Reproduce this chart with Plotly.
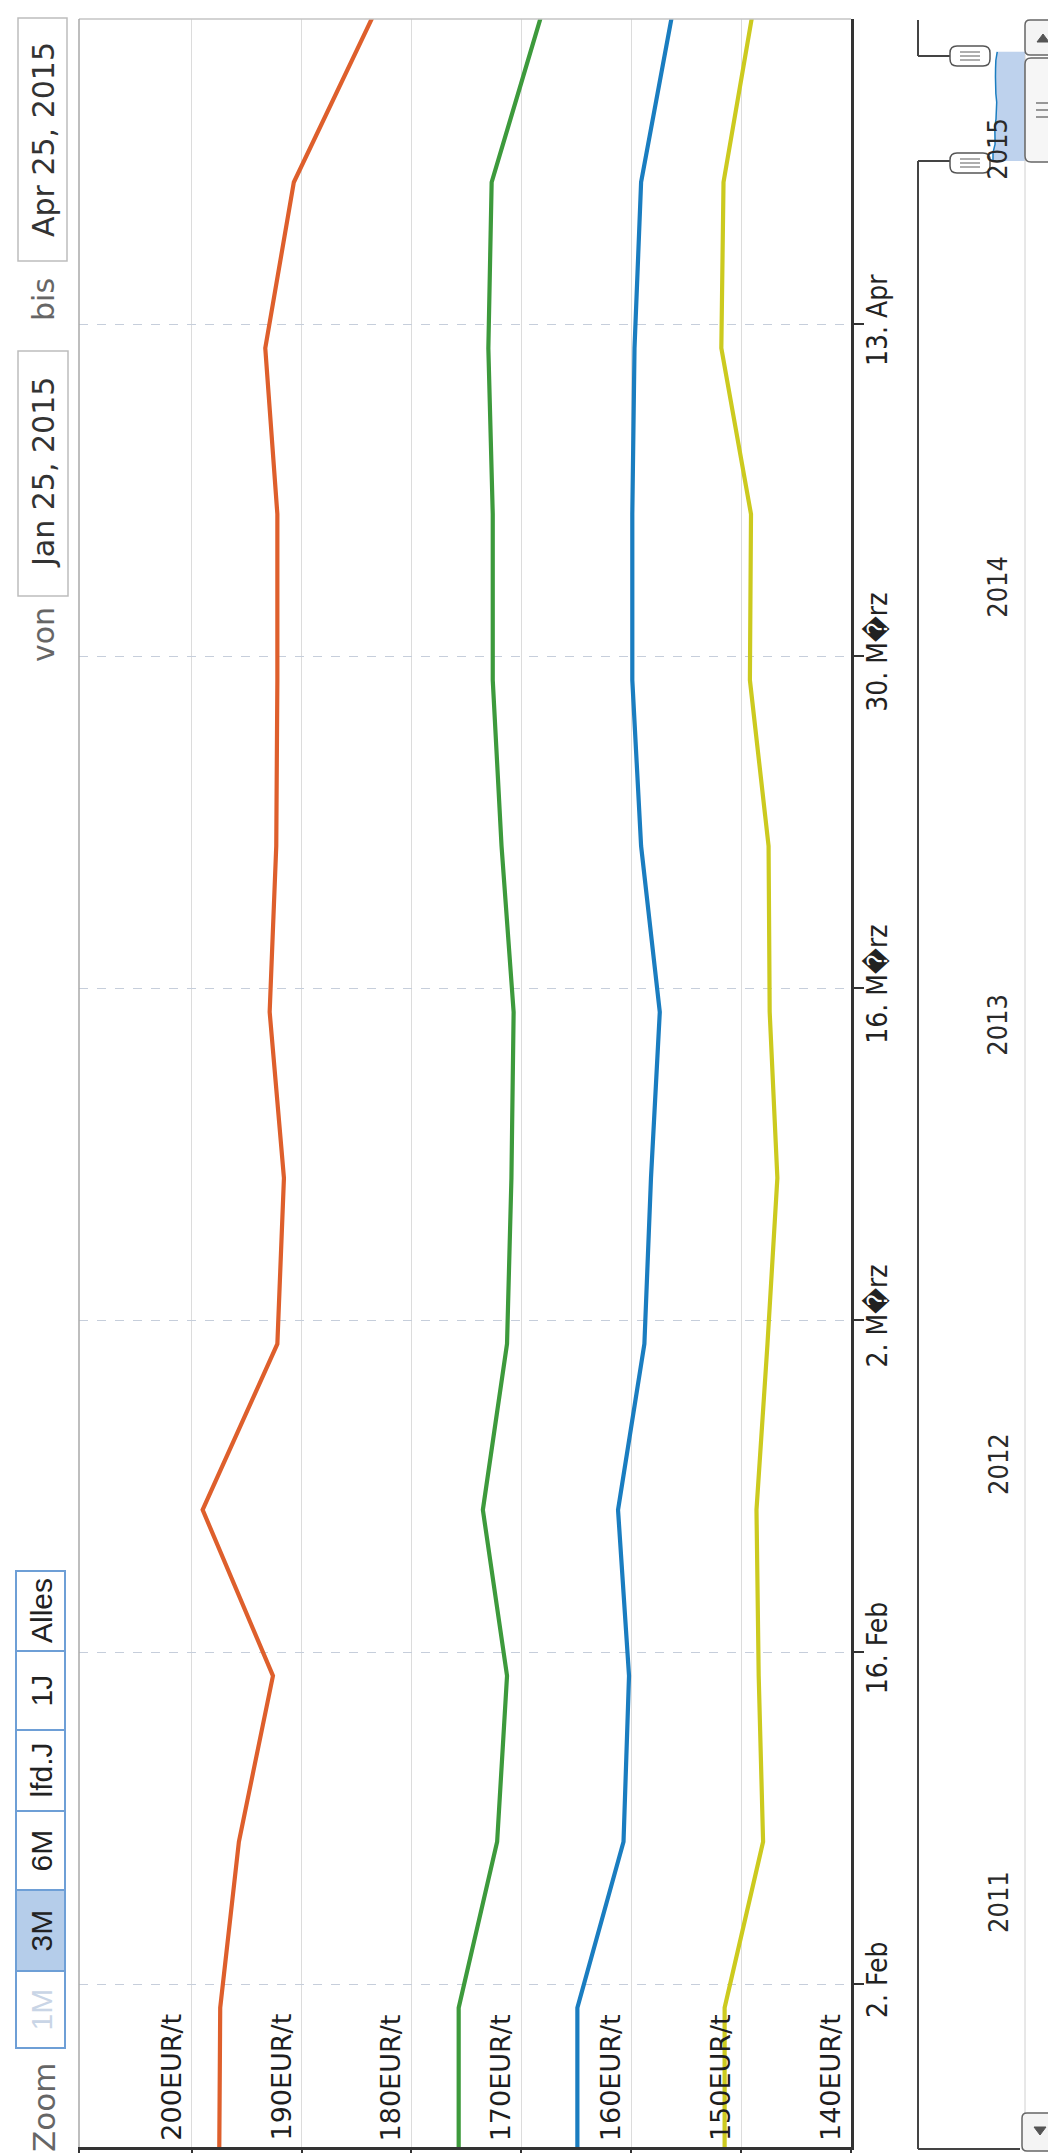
import pandas as pd
import plotly.graph_objects as go

# ---------------- data ----------------
dates = ["2015-01-25", "2015-02-01", "2015-02-08", "2015-02-15", "2015-02-22",
         "2015-03-01", "2015-03-08", "2015-03-15", "2015-03-22", "2015-03-29",
         "2015-04-05", "2015-04-12", "2015-04-19", "2015-04-26"]
orange = [197.5, 197.4, 195.7, 192.6, 199.0, 192.2, 191.6, 192.9, 192.3, 192.2, 192.2, 193.3, 190.7, 183.5]
green = [175.7, 175.7, 172.2, 171.3, 173.5, 171.3, 170.9, 170.7, 171.8, 172.6, 172.6, 173.0, 172.7, 168.2]
blue = [164.9, 164.9, 160.7, 160.2, 161.2, 158.8, 158.2, 157.4, 159.1, 159.9, 159.9, 159.7, 159.1, 156.3]
yellow = [151.5, 151.5, 148.0, 148.4, 148.6, 147.6, 146.7, 147.4, 147.5, 149.2, 149.1, 151.8, 151.6, 149.0]

value_ticks = [200, 190, 180, 170, 160, 150, 140]
value_labels = [f"{v}EUR/t" for v in value_ticks]
date_ticks = ["2015-02-02", "2015-02-16", "2015-03-02", "2015-03-16", "2015-03-30", "2015-04-13"]
date_labels = ["2. Feb", "16. Feb", "2. M\ufffdrz", "16. M\ufffdrz", "30. M\ufffdrz", "13. Apr"]
year_ticks = ["2011-01-01", "2012-01-01", "2013-01-01", "2014-01-01", "2015-01-01"]
year_labels = ["2011", "2012", "2013", "2014", "2015"]
buttons = ["1M", "3M", "6M", "lfd.J", "1J", "Alles"]
range_from = "Jan 25, 2015"
range_to = "Apr 25, 2015"

# ---------------- geometry helpers ----------------
W, H = 1056, 2153
def fx(x): return x / W
def fy(y): return 1 - y / H

COND = "DejaVu Sans Condensed, Liberation Sans Narrow, Arial Narrow, sans-serif"
SANS = "DejaVu Sans, Verdana, sans-serif"
UI = "Liberation Sans, Arial, sans-serif"

shapes = []
annotations = []

def seg(x0, y0, x1, y1, color="#444", width=2, dash="solid"):
    shapes.append(dict(type="line", xref="paper", yref="paper", x0=fx(x0), y0=fy(y0),
                       x1=fx(x1), y1=fy(y1), line=dict(color=color, width=width, dash=dash),
                       layer="above"))

def box(x0, y0, x1, y1, fill="white", color="#444", width=1.5, layer="above"):
    shapes.append(dict(type="rect", xref="paper", yref="paper", x0=fx(x0), y0=fy(y1),
                       x1=fx(x1), y1=fy(y0), fillcolor=fill,
                       line=dict(color=color, width=width), layer=layer))

def rbox(x0, y0, x1, y1, r, fill="white", color="#555", width=1.5):
    p = (f"M {fx(x0+r)},{fy(y0)} L {fx(x1-r)},{fy(y0)} Q {fx(x1)},{fy(y0)} {fx(x1)},{fy(y0+r)} "
         f"L {fx(x1)},{fy(y1-r)} Q {fx(x1)},{fy(y1)} {fx(x1-r)},{fy(y1)} "
         f"L {fx(x0+r)},{fy(y1)} Q {fx(x0)},{fy(y1)} {fx(x0)},{fy(y1-r)} "
         f"L {fx(x0)},{fy(y0+r)} Q {fx(x0)},{fy(y0)} {fx(x0+r)},{fy(y0)} Z")
    shapes.append(dict(type="path", xref="paper", yref="paper", path=p, fillcolor=fill,
                       line=dict(color=color, width=width), layer="above"))

def tri(pts, color="#444"):
    p = "M " + " L ".join(f"{fx(a)},{fy(b)}" for a, b in pts) + " Z"
    shapes.append(dict(type="path", xref="paper", yref="paper", path=p, fillcolor=color,
                       line=dict(color=color, width=1), layer="above"))

def text(x, y, s, size, color="#222", family=SANS, xanchor="center", yanchor="middle"):
    annotations.append(dict(x=fx(x), y=fy(y), xref="paper", yref="paper", text=s,
                            showarrow=False, textangle=-90, xanchor=xanchor, yanchor=yanchor,
                            font=dict(size=size, color=color, family=family)))

# ---------------- main plot box (px) ----------------
ML, MR, MT, MB = 71, 843, 11, 2139
# navigator box (px)
NL, NR, NT, NB = 910, 1017, 12, 2141

# navigator date scale: 1.2 px/day, Jan 25 2015 at y=153
anchor = pd.Timestamp("2015-01-25")
nav_bottom = anchor - pd.Timedelta(days=(NB - 153) / 1.2)
nav_top = anchor + pd.Timedelta(days=(153 - NT) / 1.2)

fig = go.Figure()
series = [(orange, "#DE5F2C"), (green, "#3D9A3C"), (blue, "#1A7DC0"), (yellow, "#CCCA1F")]
for vals, col in series:
    fig.add_trace(go.Scatter(x=vals, y=dates, mode="lines", line=dict(color=col, width=4.2),
                             xaxis="x", yaxis="y", showlegend=False, hoverinfo="skip"))

# navigator series
fig.add_trace(go.Scatter(x=blue, y=dates, mode="lines", fill="tozerox",
                         fillcolor="rgba(110,155,215,0.45)",
                         line=dict(color="#1B7DC0", width=1.5),
                         xaxis="x2", yaxis="y2", showlegend=False, hoverinfo="skip"))

# value labels inside the plot
for v, s in zip(value_ticks, value_labels):
    annotations.append(dict(x=v, xref="x", y=fy(2135), yref="paper", text=s, showarrow=False,
                            textangle=-90, xanchor="right", yanchor="bottom", xshift=-3,
                            font=dict(size=27, color="#1E1E1E", family=SANS)))

# year labels in navigator
for d, s in zip(year_ticks, year_labels):
    annotations.append(dict(x=fx(990), xref="paper", y=d, yref="y2", text=s, showarrow=False,
                            textangle=-90, xanchor="center", yanchor="bottom", yshift=8,
                            font=dict(size=27, color="#2A2A2A", family=COND)))

# plot borders
seg(ML, MT, MR, MT, color="#C4C4C4", width=1.5)
seg(ML, MT, ML, MB, color="#A8A8A8", width=1.5)
seg(ML, MB, ML, H, color="#333", width=2)

# navigator outline
seg(NL, NB, NL, 153, color="#444", width=2)
seg(NL, 153, 944, 153, color="#444", width=2)
seg(NL, 48, 944, 48, color="#444", width=2)
seg(NL, 48, NL, NT, color="#444", width=2)
seg(NL, NB, 1012, NB, color="#444", width=2)

# scrollbar track
seg(1017, 47, 1017, 2105, color="#D0D0D0", width=1)
seg(1053, 47, 1053, 2105, color="#D0D0D0", width=1)
# scrollbar buttons & thumb
rbox(1017, 12, 1053, 47, 5, fill="#F4F4F4", color="#666", width=1.5)
tri([(1029, 34), (1041, 34), (1035, 26)], color="#555")
rbox(1017, 50, 1053, 154, 6, fill="#F6F6F6", color="#666", width=1.5)
for yy in (95, 102, 109):
    seg(1028, yy, 1042, yy, color="#777", width=1.5)
rbox(1014, 2105, 1050, 2143, 5, fill="#F4F4F4", color="#666", width=1.5)
tri([(1026, 2119), (1038, 2119), (1032, 2127)], color="#555")

# navigator handles
for cy in (48, 155):
    rbox(942, cy - 10, 982, cy + 10, 7, fill="white", color="#555", width=1.5)
    for dy in (-4, 0, 4):
        seg(952, cy + dy, 972, cy + dy, color="#777", width=1.2)

# range selector buttons
btn_edges = [2040, 1963, 1882, 1803, 1722, 1643, 1563]
for i, lab in enumerate(buttons):
    y1, y0 = btn_edges[i], btn_edges[i + 1]
    fill = "#B5CDEA" if lab == "3M" else "white"
    box(8, y0, 57, y1, fill=fill, color="#6E9FD6", width=2)
    col = "#C9D5E6" if lab == "1M" else "#222"
    text(33, (y0 + y1) / 2, lab, 30, color=col, family=UI)
text(36, 2100, "Zoom", 31, color="#666", family=SANS)

# date input boxes
box(10, 10, 59, 253, fill="white", color="#BDBDBD", width=1.5)
text(35, 132, range_to, 30, color="#333", family=SANS)
text(35, 292, "bis", 30, color="#666", family=SANS)
box(10, 343, 60, 588, fill="white", color="#BDBDBD", width=1.5)
text(35, 465, range_from, 30, color="#333", family=SANS)
text(35, 627, "von", 30, color="#666", family=SANS)

fig.update_layout(
    width=W, height=H, margin=dict(l=0, r=0, t=0, b=0),
    paper_bgcolor="white", plot_bgcolor="white", showlegend=False,
    xaxis=dict(domain=[fx(ML), fx(MR)], range=[210.25, 140], anchor="y",
               tickvals=value_ticks, showticklabels=False, ticks="outside", ticklen=14,
               tickwidth=2, tickcolor="#333", showline=True, linecolor="#333", linewidth=2.5,
               showgrid=True, gridcolor="#DCDCDC", gridwidth=1, zeroline=False, fixedrange=True),
    yaxis=dict(domain=[fy(MB), fy(MT)], type="date",
               range=["2015-01-26 03:00", "2015-04-25 21:15"], anchor="x", side="right",
               tickvals=date_ticks, ticktext=date_labels, tickangle=-90,
               tickfont=dict(size=28, color="#222", family=COND),
               ticks="outside", ticklen=10, tickwidth=2, tickcolor="#333",
               ticklabelstandoff=-10,
               showline=True, linecolor="#333", linewidth=2.5,
               showgrid=True, gridcolor="#C6CEDB", griddash="dash", gridwidth=1,
               zeroline=False, fixedrange=True),
    xaxis2=dict(domain=[fx(NL), fx(NR)], range=[317, 100], anchor="y2", visible=False,
                fixedrange=True),
    yaxis2=dict(domain=[fy(NB), fy(NT)], type="date",
                range=[nav_bottom.isoformat(), nav_top.isoformat()], anchor="x2",
                visible=False, fixedrange=True),
    shapes=shapes, annotations=annotations,
)

fig.write_html("out.html")
